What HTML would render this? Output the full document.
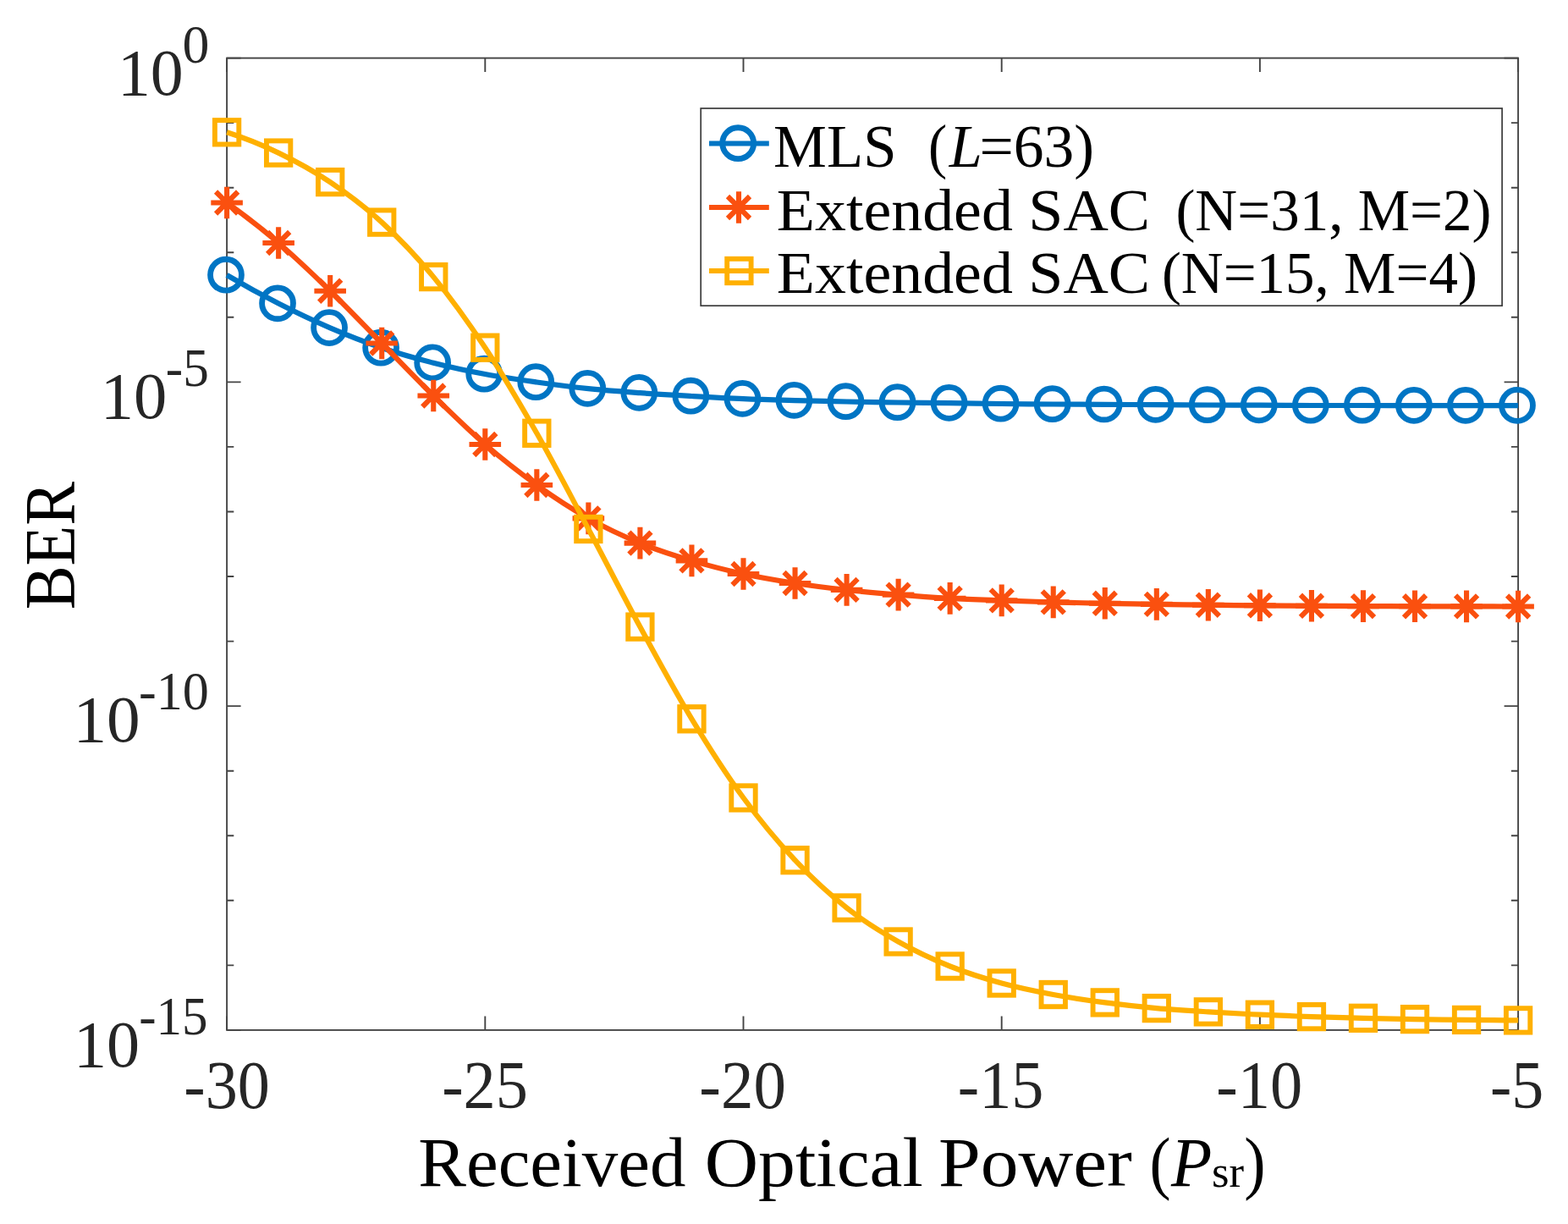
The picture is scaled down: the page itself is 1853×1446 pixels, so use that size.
<!DOCTYPE html>
<html lang="en"><head><meta charset="utf-8"><title>BER vs Received Optical Power</title>
<style>
html,body{margin:0;padding:0;background:#fff}
svg{display:block}
text{font-family:"Liberation Serif",serif;white-space:pre}
</style></head><body>
<svg width="1853" height="1446" viewBox="0 0 1853 1446" role="img" aria-label="BER versus Received Optical Power">
<rect x="0" y="0" width="1853" height="1446" fill="#fff"/>
<g fill="none" stroke="#444444" stroke-width="1.9" stroke-linecap="butt">
<rect x="268.1" y="68.6" width="1526.00" height="1148.30"/>
<path d="M268.10 1216.9 v-16.5 M268.10 68.6 v16.5 M573.30 1216.9 v-16.5 M573.30 68.6 v16.5 M878.50 1216.9 v-16.5 M878.50 68.6 v16.5 M1183.70 1216.9 v-16.5 M1183.70 68.6 v16.5 M1488.90 1216.9 v-16.5 M1488.90 68.6 v16.5 M1794.10 1216.9 v-16.5 M1794.10 68.6 v16.5 M268.1 68.60 h16.5 M1794.1 68.60 h-16.5 M268.1 145.15 h8.2 M1794.1 145.15 h-8.2 M268.1 221.71 h8.2 M1794.1 221.71 h-8.2 M268.1 298.26 h8.2 M1794.1 298.26 h-8.2 M268.1 374.81 h8.2 M1794.1 374.81 h-8.2 M268.1 451.37 h16.5 M1794.1 451.37 h-16.5 M268.1 527.92 h8.2 M1794.1 527.92 h-8.2 M268.1 604.47 h8.2 M1794.1 604.47 h-8.2 M268.1 681.03 h8.2 M1794.1 681.03 h-8.2 M268.1 757.58 h8.2 M1794.1 757.58 h-8.2 M268.1 834.13 h16.5 M1794.1 834.13 h-16.5 M268.1 910.69 h8.2 M1794.1 910.69 h-8.2 M268.1 987.24 h8.2 M1794.1 987.24 h-8.2 M268.1 1063.79 h8.2 M1794.1 1063.79 h-8.2 M268.1 1140.35 h8.2 M1794.1 1140.35 h-8.2 M268.1 1216.90 h16.5 M1794.1 1216.90 h-16.5"/>
</g>
<g>
<path d="M268.10 325.00C288.45 337.00 308.79 348.20 329.14 358.60C349.49 369.00 369.83 378.67 390.18 387.40C410.53 396.13 430.87 404.12 451.22 411.00C471.57 417.88 491.91 423.53 512.26 428.70C532.61 433.87 552.95 438.20 573.30 442.00C593.65 445.80 613.99 448.63 634.34 451.50C654.69 454.37 675.03 457.08 695.38 459.20C715.73 461.32 736.07 462.73 756.42 464.20C776.77 465.67 797.11 466.83 817.46 468.00C837.81 469.17 858.15 470.35 878.50 471.20C898.85 472.05 919.19 472.55 939.54 473.10C959.89 473.65 980.23 474.10 1000.58 474.50C1020.93 474.90 1041.27 475.22 1061.62 475.50C1081.97 475.78 1102.31 475.95 1122.66 476.20C1143.01 476.45 1163.35 476.78 1183.70 477.00C1204.05 477.22 1224.39 477.37 1244.74 477.50C1265.09 477.63 1285.43 477.68 1305.78 477.80C1326.13 477.92 1346.47 478.08 1366.82 478.20C1387.17 478.32 1407.51 478.42 1427.86 478.50C1448.21 478.58 1468.55 478.62 1488.90 478.70C1509.25 478.78 1529.59 478.95 1549.94 479.00C1570.29 479.05 1590.63 478.97 1610.98 479.00C1631.33 479.03 1651.67 479.17 1672.02 479.20C1692.37 479.23 1712.71 479.20 1733.06 479.20C1753.41 479.20 1773.75 479.20 1794.10 479.20" fill="none" stroke="#0075C4" stroke-width="6.2" stroke-linejoin="round" stroke-linecap="butt"/>
<g fill="none" stroke="#0075C4" stroke-width="6.8"><circle cx="267.00" cy="324.70" r="18.45"/><circle cx="328.04" cy="358.30" r="18.45"/><circle cx="389.08" cy="387.10" r="18.45"/><circle cx="450.12" cy="410.70" r="18.45"/><circle cx="511.16" cy="428.40" r="18.45"/><circle cx="572.20" cy="441.70" r="18.45"/><circle cx="633.24" cy="451.20" r="18.45"/><circle cx="694.28" cy="458.90" r="18.45"/><circle cx="755.32" cy="463.90" r="18.45"/><circle cx="816.36" cy="467.70" r="18.45"/><circle cx="877.40" cy="470.90" r="18.45"/><circle cx="938.44" cy="472.80" r="18.45"/><circle cx="999.48" cy="474.20" r="18.45"/><circle cx="1060.52" cy="475.20" r="18.45"/><circle cx="1121.56" cy="475.90" r="18.45"/><circle cx="1182.60" cy="476.70" r="18.45"/><circle cx="1243.64" cy="477.20" r="18.45"/><circle cx="1304.68" cy="477.50" r="18.45"/><circle cx="1365.72" cy="477.90" r="18.45"/><circle cx="1426.76" cy="478.20" r="18.45"/><circle cx="1487.80" cy="478.40" r="18.45"/><circle cx="1548.84" cy="478.70" r="18.45"/><circle cx="1609.88" cy="478.70" r="18.45"/><circle cx="1670.92" cy="478.90" r="18.45"/><circle cx="1731.96" cy="478.90" r="18.45"/><circle cx="1793.00" cy="478.90" r="18.45"/></g>
</g><g>
<path d="M268.10 239.50C288.45 253.80 308.79 269.63 329.14 287.00C349.49 304.37 369.83 323.95 390.18 343.70C410.53 363.45 430.87 384.87 451.22 405.50C471.57 426.13 491.91 447.58 512.26 467.50C532.61 487.42 552.95 507.42 573.30 525.00C593.65 542.58 613.99 558.43 634.34 573.00C654.69 587.57 675.03 600.97 695.38 612.40C715.73 623.83 736.07 633.27 756.42 641.60C776.77 649.93 797.11 656.33 817.46 662.40C837.81 668.47 858.15 673.57 878.50 678.00C898.85 682.43 919.19 685.85 939.54 689.00C959.89 692.15 980.23 694.63 1000.58 696.90C1020.93 699.17 1041.27 700.93 1061.62 702.60C1081.97 704.27 1102.31 705.77 1122.66 706.90C1143.01 708.03 1163.35 708.65 1183.70 709.40C1204.05 710.15 1224.39 710.83 1244.74 711.40C1265.09 711.97 1285.43 712.38 1305.78 712.80C1326.13 713.22 1346.47 713.58 1366.82 713.90C1387.17 714.22 1407.51 714.47 1427.86 714.70C1448.21 714.93 1468.55 715.12 1488.90 715.30C1509.25 715.48 1529.59 715.67 1549.94 715.80C1570.29 715.93 1590.63 716.02 1610.98 716.10C1631.33 716.18 1651.67 716.25 1672.02 716.30C1692.37 716.35 1712.71 716.37 1733.06 716.40C1753.41 716.43 1773.75 716.47 1794.10 716.50" fill="none" stroke="#FA500F" stroke-width="6.2" stroke-linejoin="round" stroke-linecap="butt"/>
<g fill="none" stroke="#FA500F" stroke-width="6.1"><path d="M249.30 239.50h37.60M268.10 220.70v37.60M255.07 226.47l26.06 26.06M255.07 252.53l26.06 -26.06"/><path d="M310.34 287.00h37.60M329.14 268.20v37.60M316.11 273.97l26.06 26.06M316.11 300.03l26.06 -26.06"/><path d="M371.38 343.70h37.60M390.18 324.90v37.60M377.15 330.67l26.06 26.06M377.15 356.73l26.06 -26.06"/><path d="M432.42 405.50h37.60M451.22 386.70v37.60M438.19 392.47l26.06 26.06M438.19 418.53l26.06 -26.06"/><path d="M493.46 467.50h37.60M512.26 448.70v37.60M499.23 454.47l26.06 26.06M499.23 480.53l26.06 -26.06"/><path d="M554.50 525.00h37.60M573.30 506.20v37.60M560.27 511.97l26.06 26.06M560.27 538.03l26.06 -26.06"/><path d="M615.54 573.00h37.60M634.34 554.20v37.60M621.31 559.97l26.06 26.06M621.31 586.03l26.06 -26.06"/><path d="M676.58 612.40h37.60M695.38 593.60v37.60M682.35 599.37l26.06 26.06M682.35 625.43l26.06 -26.06"/><path d="M737.62 641.60h37.60M756.42 622.80v37.60M743.39 628.57l26.06 26.06M743.39 654.63l26.06 -26.06"/><path d="M798.66 662.40h37.60M817.46 643.60v37.60M804.43 649.37l26.06 26.06M804.43 675.43l26.06 -26.06"/><path d="M859.70 678.00h37.60M878.50 659.20v37.60M865.47 664.97l26.06 26.06M865.47 691.03l26.06 -26.06"/><path d="M920.74 689.00h37.60M939.54 670.20v37.60M926.51 675.97l26.06 26.06M926.51 702.03l26.06 -26.06"/><path d="M981.78 696.90h37.60M1000.58 678.10v37.60M987.55 683.87l26.06 26.06M987.55 709.93l26.06 -26.06"/><path d="M1042.82 702.60h37.60M1061.62 683.80v37.60M1048.59 689.57l26.06 26.06M1048.59 715.63l26.06 -26.06"/><path d="M1103.86 706.90h37.60M1122.66 688.10v37.60M1109.63 693.87l26.06 26.06M1109.63 719.93l26.06 -26.06"/><path d="M1164.90 709.40h37.60M1183.70 690.60v37.60M1170.67 696.37l26.06 26.06M1170.67 722.43l26.06 -26.06"/><path d="M1225.94 711.40h37.60M1244.74 692.60v37.60M1231.71 698.37l26.06 26.06M1231.71 724.43l26.06 -26.06"/><path d="M1286.98 712.80h37.60M1305.78 694.00v37.60M1292.75 699.77l26.06 26.06M1292.75 725.83l26.06 -26.06"/><path d="M1348.02 713.90h37.60M1366.82 695.10v37.60M1353.79 700.87l26.06 26.06M1353.79 726.93l26.06 -26.06"/><path d="M1409.06 714.70h37.60M1427.86 695.90v37.60M1414.83 701.67l26.06 26.06M1414.83 727.73l26.06 -26.06"/><path d="M1470.10 715.30h37.60M1488.90 696.50v37.60M1475.87 702.27l26.06 26.06M1475.87 728.33l26.06 -26.06"/><path d="M1531.14 715.80h37.60M1549.94 697.00v37.60M1536.91 702.77l26.06 26.06M1536.91 728.83l26.06 -26.06"/><path d="M1592.18 716.10h37.60M1610.98 697.30v37.60M1597.95 703.07l26.06 26.06M1597.95 729.13l26.06 -26.06"/><path d="M1653.22 716.30h37.60M1672.02 697.50v37.60M1658.99 703.27l26.06 26.06M1658.99 729.33l26.06 -26.06"/><path d="M1714.26 716.40h37.60M1733.06 697.60v37.60M1720.03 703.37l26.06 26.06M1720.03 729.43l26.06 -26.06"/><path d="M1775.30 716.50h37.60M1794.10 697.70v37.60M1781.07 703.47l26.06 26.06M1781.07 729.53l26.06 -26.06"/></g>
</g><g>
<path d="M268.10 156.30C288.45 162.70 308.79 170.80 329.14 180.60C349.49 190.40 369.83 201.43 390.18 215.10C410.53 228.77 430.87 243.93 451.22 262.60C471.57 281.27 491.91 302.42 512.26 327.10C532.61 351.78 552.95 379.92 573.30 410.70C593.65 441.48 613.99 476.08 634.34 511.80C654.69 547.52 675.03 586.87 695.38 625.00C715.73 663.13 736.07 703.22 756.42 740.60C776.77 777.98 797.11 815.65 817.46 849.30C837.81 882.95 858.15 914.68 878.50 942.50C898.85 970.32 919.19 994.53 939.54 1016.20C959.89 1037.87 980.23 1056.45 1000.58 1072.50C1020.93 1088.55 1041.27 1101.00 1061.62 1112.50C1081.97 1124.00 1102.31 1133.33 1122.66 1141.50C1143.01 1149.67 1163.35 1155.92 1183.70 1161.50C1204.05 1167.08 1224.39 1171.18 1244.74 1175.00C1265.09 1178.82 1285.43 1181.72 1305.78 1184.40C1326.13 1187.08 1346.47 1189.27 1366.82 1191.10C1387.17 1192.93 1407.51 1194.13 1427.86 1195.40C1448.21 1196.67 1468.55 1197.75 1488.90 1198.70C1509.25 1199.65 1529.59 1200.42 1549.94 1201.10C1570.29 1201.78 1590.63 1202.30 1610.98 1202.80C1631.33 1203.30 1651.67 1203.75 1672.02 1204.10C1692.37 1204.45 1712.71 1204.68 1733.06 1204.90C1753.41 1205.12 1773.75 1205.28 1794.10 1205.40" fill="none" stroke="#FFB000" stroke-width="6.2" stroke-linejoin="round" stroke-linecap="butt"/>
<g fill="none" stroke="#FFB000" stroke-width="5.9" stroke-linejoin="miter"><rect x="253.90" y="142.10" width="28.4" height="28.4"/><rect x="314.94" y="166.40" width="28.4" height="28.4"/><rect x="375.98" y="200.90" width="28.4" height="28.4"/><rect x="437.02" y="248.40" width="28.4" height="28.4"/><rect x="498.06" y="312.90" width="28.4" height="28.4"/><rect x="559.10" y="396.50" width="28.4" height="28.4"/><rect x="620.14" y="497.60" width="28.4" height="28.4"/><rect x="681.18" y="610.80" width="28.4" height="28.4"/><rect x="742.22" y="726.40" width="28.4" height="28.4"/><rect x="803.26" y="835.10" width="28.4" height="28.4"/><rect x="864.30" y="928.30" width="28.4" height="28.4"/><rect x="925.34" y="1002.00" width="28.4" height="28.4"/><rect x="986.38" y="1058.30" width="28.4" height="28.4"/><rect x="1047.42" y="1098.30" width="28.4" height="28.4"/><rect x="1108.46" y="1127.30" width="28.4" height="28.4"/><rect x="1169.50" y="1147.30" width="28.4" height="28.4"/><rect x="1230.54" y="1160.80" width="28.4" height="28.4"/><rect x="1291.58" y="1170.20" width="28.4" height="28.4"/><rect x="1352.62" y="1176.90" width="28.4" height="28.4"/><rect x="1413.66" y="1181.20" width="28.4" height="28.4"/><rect x="1474.70" y="1184.50" width="28.4" height="28.4"/><rect x="1535.74" y="1186.90" width="28.4" height="28.4"/><rect x="1596.78" y="1188.60" width="28.4" height="28.4"/><rect x="1657.82" y="1189.90" width="28.4" height="28.4"/><rect x="1718.86" y="1190.70" width="28.4" height="28.4"/><rect x="1779.90" y="1191.20" width="28.4" height="28.4"/></g>
</g>
<rect x="828.2" y="128.0" width="946.9" height="233.2" fill="#fff" stroke="#3a3a3a" stroke-width="1.7"/>
<path d="M838 169.5H908.8" stroke="#0075C4" stroke-width="6.2" fill="none"/>
<g fill="none" stroke="#0075C4" stroke-width="6.8"><circle cx="872.20" cy="169.20" r="18.45"/></g>
<path d="M838 245.0H908.8" stroke="#FA500F" stroke-width="6.2" fill="none"/>
<g fill="none" stroke="#FA500F" stroke-width="6.1"><path d="M854.20 245.00h37.60M873.00 226.20v37.60M859.97 231.97l26.06 26.06M859.97 258.03l26.06 -26.06"/></g>
<path d="M838 320.0H908.8" stroke="#FFB000" stroke-width="6.2" fill="none"/>
<g fill="none" stroke="#FFB000" stroke-width="5.9"><rect x="859.20" y="305.80" width="28.4" height="28.4"/></g>
<text transform="translate(217.33 1309.30) scale(0.9595 1)" font-size="79.41" fill="#262626">-30</text>
<text transform="translate(522.13 1309.30) scale(0.9615 1)" font-size="79.41" fill="#262626">-25</text>
<text transform="translate(826.31 1309.30) scale(0.9695 1)" font-size="79.41" fill="#262626">-20</text>
<text transform="translate(1131.83 1309.30) scale(0.9605 1)" font-size="79.41" fill="#262626">-15</text>
<text transform="translate(1437.32 1309.30) scale(0.9635 1)" font-size="79.41" fill="#262626">-10</text>
<text transform="translate(1760.94 1309.30) scale(0.9578 1)" font-size="79.41" fill="#262626">-5</text>
<text transform="translate(138.90 112.00) scale(0.9873 1)" font-size="78.81" fill="#262626">10</text>
<text transform="translate(215.55 73.60) scale(1.0017 1)" font-size="63.70" fill="#262626">0</text>
<text transform="translate(118.72 494.17) scale(0.9975 1)" font-size="78.81" fill="#262626">10</text>
<text transform="translate(195.85 455.77) scale(0.9625 1)" font-size="63.70" fill="#262626">-5</text>
<text transform="translate(86.46 875.93) scale(1.0063 1)" font-size="78.81" fill="#262626">10</text>
<text transform="translate(164.02 837.53) scale(0.9767 1)" font-size="63.70" fill="#262626">-10</text>
<text transform="translate(86.97 1259.90) scale(0.9917 1)" font-size="78.81" fill="#262626">10</text>
<text transform="translate(164.16 1221.50) scale(0.9581 1)" font-size="63.70" fill="#262626">-15</text>
<text transform="translate(494.25 1401.40) scale(1.0423 1)" font-size="81.53" fill="#000">Received </text>
<text transform="translate(832.79 1401.40) scale(1.0757 1)" font-size="81.53" fill="#000">Optical </text>
<text transform="translate(1109.01 1401.40) scale(1.0988 1)" font-size="81.53" fill="#000">Power </text>
<text transform="translate(1358.41 1401.40) scale(0.9236 1)" font-size="81.53" fill="#000">(</text>
<text transform="translate(1383.99 1401.40) scale(0.9688 1)" font-size="81.53" fill="#000" font-style="italic">P</text>
<text transform="translate(1431.89 1402.00) scale(1.0046 1)" font-size="52.50" fill="#000">sr</text>
<text transform="translate(1470.22 1401.40) scale(0.9341 1)" font-size="81.53" fill="#000">)</text>
<text transform="translate(88.30 720.34) rotate(-90) scale(0.9279 1)" font-size="83.97" fill="#000">BER</text>
<text transform="translate(914.08 197.30) scale(0.9775 1)" font-size="72.37" fill="#000">MLS  </text>
<text transform="translate(1097.00 197.30) scale(0.9212 1)" font-size="72.37" fill="#000">(</text>
<text transform="translate(1121.70 197.30) scale(0.9700 1)" font-size="72.37" fill="#000" font-style="italic">L</text>
<text transform="translate(1157.43 197.30) scale(0.9876 1)" font-size="72.37" fill="#000">=63)</text>
<text transform="translate(917.78 271.60) scale(1.0480 1)" font-size="70.53" fill="#000">Extended SAC  </text>
<text transform="translate(1389.39 271.60) scale(0.9787 1)" font-size="70.53" fill="#000">(N=31, M=2)</text>
<text transform="translate(917.78 346.40) scale(1.0480 1)" font-size="70.53" fill="#000">Extended SAC </text>
<text transform="translate(1372.89 346.40) scale(0.9784 1)" font-size="70.53" fill="#000">(N=15, M=4)</text>
</svg></body></html>
